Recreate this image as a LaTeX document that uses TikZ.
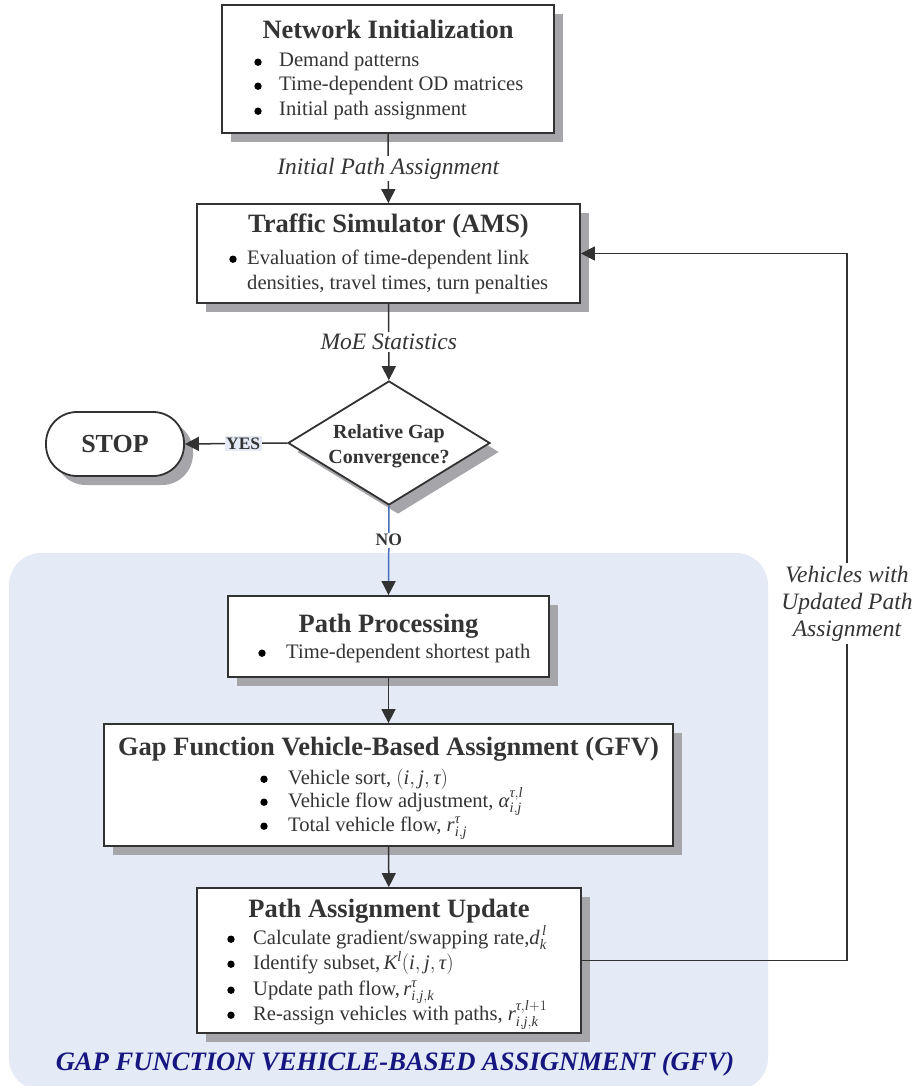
\documentclass[tikz,border=0pt]{standalone}
\usepackage{fontspec}
\setmainfont{Liberation Serif}
\usepackage{amsmath}
\usetikzlibrary{arrows.meta,shapes.geometric,shadows}

\definecolor{txtc}{RGB}{52,52,52}
\definecolor{linec}{RGB}{50,50,50}
\definecolor{shadowc}{RGB}{166,166,170}
\definecolor{regionc}{RGB}{229,235,246}
\definecolor{bluel}{RGB}{70,110,185}
\definecolor{navyc}{RGB}{22,22,128}

% italic letters in formulas, set in the text face
\newcommand\mi[1]{\text{\itshape #1}}
% a bullet mark centred on the x-height of a line with the given baseline
\newcommand\bul[2]{\fill[black] (#1,#2-4.8) circle (3.7);}

\begin{document}
\begin{tikzpicture}[x=1pt,y=-1pt,
  box/.style={draw=linec, line width=1.8pt, fill=white, rectangle, inner sep=0pt,
    drop shadow={shadow xshift=9pt, shadow yshift=-9pt, fill=shadowc, opacity=1}},
  ttl/.style={font=\fontsize{26.5}{30}\selectfont\bfseries, text=txtc, inner sep=0pt, anchor=base},
  itm/.style={font=\fontsize{20.6}{25}\selectfont, text=txtc, inner sep=0pt, anchor=base west},
  arr/.style={draw=linec, line width=1.5pt, -{Triangle[length=14pt,width=14pt]}},
  lbl/.style={font=\fontsize{23.5}{27}\selectfont\itshape, text=txtc, fill=white, inner sep=2pt, align=center},
  yn/.style={font=\fontsize{17.5}{20}\selectfont\bfseries, text=txtc, inner sep=1.5pt}
]
\useasboundingbox (0,0) rectangle (915,1086);
\fill[white] (0,0) rectangle (915,1086);

% shaded region holding the assignment steps
\fill[regionc, rounded corners=32pt] (9,553) rectangle (768,1090);

% ---- Network initialization
\node[box, minimum width=332, minimum height=128] (net) at (388,69) {};
\node[ttl] (netT) at (388,39) {Network Initialization};
\node[itm] (netA) at (279,67) {Demand patterns};
\node[itm] (netB) at (279,91) {Time-dependent OD matrices};
\node[itm] (netC) at (279,116) {Initial path assignment};
\bul{258}{67} \bul{258}{91} \bul{258}{116}

% ---- Traffic simulator
\node[box, minimum width=383, minimum height=99] (sim) at (388.5,253.5) {};
\node[ttl] (simT) at (388.5,232) {Traffic Simulator (AMS)};
\node[itm] (simA) at (247,264) {Evaluation of time-dependent link};
\node[itm] (simB) at (247,289) {densities, travel times, turn penalties};
\bul{233}{264}

% ---- Convergence test and stop
\node[draw=linec, line width=1.8pt, fill=white, diamond, inner sep=0pt,
  minimum width=202, minimum height=124,
  drop shadow={shadow xshift=9pt, shadow yshift=-9pt, fill=shadowc, opacity=1}] (dec) at (389,443) {};
\node[font=\fontsize{20}{25}\selectfont\bfseries, text=txtc, align=center, inner sep=0pt] (decT) at (389,446) {Relative Gap\\Convergence?};

\node[draw=linec, line width=1.8pt, fill=white, rectangle, rounded corners=31pt, inner sep=0pt,
  minimum width=138, minimum height=64,
  font=\fontsize{26}{30}\selectfont\bfseries, text=txtc,
  drop shadow={shadow xshift=9pt, shadow yshift=-9pt, fill=shadowc, opacity=1}] (stop) at (115,444) {STOP};

% ---- Path processing
\node[box, minimum width=321, minimum height=81] (pp) at (388.5,636.5) {};
\node[ttl] (ppT) at (388.5,632) {Path Processing};
\node[itm] (ppA) at (286,658) {Time-dependent shortest path};
\bul{262}{658}

% ---- Gap function vehicle-based assignment
\node[box, minimum width=569, minimum height=122] (gfv) at (388.5,785) {};
\node[ttl] (gfvT) at (388.5,755) {Gap Function Vehicle-Based Assignment (GFV)};
\node[itm] (gfvA) at (288,784) {Vehicle sort, $(\mi{i}, \mi{j}, \mi{τ})$};
\node[itm] (gfvB) at (288,807) {Vehicle flow adjustment, $\mi{α}^{\mi{τ},\mi{l}}_{\mi{i}, \mi{j}}$};
\node[itm] (gfvC) at (288,831) {Total vehicle flow, $\mi{r}^{\mi{τ}}_{\mi{i}, \mi{j}}$};
\bul{264}{784} \bul{264}{807} \bul{264}{831}

% ---- Path assignment update
\node[box, minimum width=384, minimum height=145] (pau) at (389,960.5) {};
\node[ttl] (pauT) at (389,917) {Path Assignment Update};
\node[itm] (pauA) at (253,944) {Calculate gradient/swapping rate,$\mi{d}^{\,\mi{l}}_{\mi{k}}$};
\node[itm] (pauB) at (253,969) {Identify subset,\,$\mi{K}^{\mi{l}}(\mi{i}, \mi{j}, \mi{τ})$};
\node[itm] (pauC) at (253,995) {Update path flow,\,$\mi{r}^{\mi{τ}}_{\mi{i}, \mi{j}, \mi{k}}$};
\node[itm] (pauD) at (253,1020) {Re-assign vehicles with paths, $\mi{r}^{\mi{τ}, \mi{l}+1}_{\mi{i}, \mi{j}, \mi{k}}$};
\bul{231}{944} \bul{231}{969} \bul{231}{995} \bul{231}{1020}

\node[font=\fontsize{26.6}{30}\selectfont\bfseries\itshape, text=navyc, inner sep=0pt] (regT) at (395,1064)
  {GAP FUNCTION VEHICLE-BASED ASSIGNMENT (GFV)};

% ---- connectors
\draw[arr] (net) -- (sim) node[lbl, midway] (lblA) {Initial Path Assignment};
\draw[arr] (sim) -- (dec) node[lbl, midway] (lblB) {MoE Statistics};
\draw[arr] (dec.west) -- (stop.east) node[yn, pos=0.43, fill=regionc] (yes) {YES};
\draw[draw=bluel, line width=1.5pt, -{Triangle[length=14pt,width=14pt,color=linec]}]
  (dec.south) -- (pp.north) node[yn, pos=0.385, fill=white] (no) {NO};
\draw[arr] (pp) -- (gfv);
\draw[arr] (gfv) -- (pau);

\coordinate (fbR) at (847,960.5);
\coordinate (fbT) at (847,253.5);
\draw[arr] (pau.east) -- (fbR) -- (fbT)
  node[lbl, pos=0.505, inner sep=3pt] (lblC) {Vehicles with\\Updated Path\\Assignment}
  -- (sim.east);
\end{tikzpicture}
\end{document}
